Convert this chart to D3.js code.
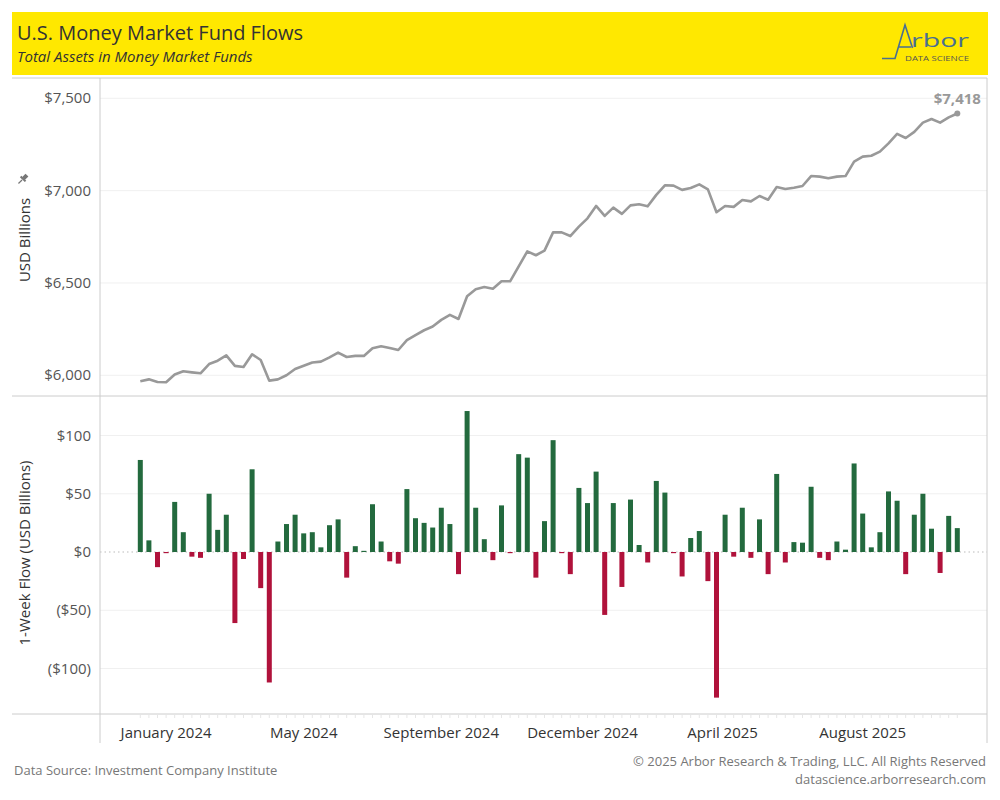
<!DOCTYPE html>
<html>
<head>
<meta charset="utf-8">
<script src="https://cdn.jsdelivr.net/npm/d3@7/dist/d3.min.js"></script>
<style>
  body { margin: 0; background: #fff; }
  text { font-family: 'Open Sans', sans-serif; }
</style>
</head>
<body>
<svg id="chart" width="1000" height="800"></svg>
<script>
// weekly report dates (ICI, Wednesdays)
const weeks = [
  '2024-01-03','2024-01-10','2024-01-17','2024-01-24','2024-01-31','2024-02-07','2024-02-14','2024-02-21','2024-02-28',
  '2024-03-06','2024-03-13','2024-03-20','2024-03-27','2024-04-03','2024-04-10','2024-04-17','2024-04-24',
  '2024-05-01','2024-05-08','2024-05-15','2024-05-22','2024-05-29','2024-06-05','2024-06-12','2024-06-19','2024-06-26',
  '2024-07-03','2024-07-10','2024-07-17','2024-07-24','2024-07-31','2024-08-07','2024-08-14','2024-08-21','2024-08-28',
  '2024-09-04','2024-09-11','2024-09-18','2024-09-25','2024-10-02','2024-10-09','2024-10-16','2024-10-23','2024-10-30',
  '2024-11-06','2024-11-13','2024-11-20','2024-11-27','2024-12-04','2024-12-11','2024-12-18','2024-12-25',
  '2025-01-01','2025-01-08','2025-01-15','2025-01-22','2025-01-29','2025-02-05','2025-02-12','2025-02-19','2025-02-26',
  '2025-03-05','2025-03-12','2025-03-19','2025-03-26','2025-04-02','2025-04-09','2025-04-16','2025-04-23','2025-04-30',
  '2025-05-07','2025-05-14','2025-05-21','2025-05-28','2025-06-04','2025-06-11','2025-06-18','2025-06-25',
  '2025-07-02','2025-07-09','2025-07-16','2025-07-23','2025-07-30','2025-08-06','2025-08-13','2025-08-20','2025-08-27',
  '2025-09-03','2025-09-10','2025-09-17','2025-09-24','2025-10-01','2025-10-08','2025-10-15','2025-10-22','2025-10-29'
]

// total assets, USD billions
const assets = [
  5968, 5978, 5964, 5962, 6004, 6022, 6016, 6011, 6061, 6079, 6108, 6051,
  6045, 6114, 6083, 5971, 5978, 6000, 6034, 6052, 6069, 6074, 6097, 6123,
  6099, 6105, 6105, 6146, 6157, 6148, 6137, 6190, 6218, 6244, 6264, 6300,
  6327, 6305, 6428, 6466, 6478, 6469, 6509, 6509, 6590, 6671, 6650, 6675,
  6774, 6774, 6754, 6805, 6850, 6917, 6863, 6908, 6874, 6920, 6926, 6915,
  6977, 7029, 7027, 7004, 7014, 7034, 7007, 6883, 6917, 6912, 6949, 6942,
  6971, 6951, 7020, 7009, 7016, 7025, 7079, 7076, 7067, 7076, 7079, 7157,
  7184, 7189, 7211, 7256, 7307, 7285, 7318, 7368, 7388, 7368, 7397, 7418
]

// 1-week flow, USD billions
const flows = [
  79, 10, -13, -1, 43, 17, -4, -5, 50, 19, 32, -61,
  -6, 71, -31, -112, 9, 24, 32, 16, 17, 4, 23, 28,
  -22, 5, 1, 41, 9, -8, -10, 54, 29, 25, 21, 38,
  24, -19, 121, 38, 11, -7, 40, -1, 84, 81, -22, 26.5,
  96, -1, -19, 55, 42, 69, -54, 42, -30, 45, 6, -9,
  61, 51, -1, -21, 12, 18, -25, -125, 32, -4, 38, -5,
  28, -19, 67, -9, 8.5, 8, 56, -5, -7, 9, 2, 76,
  33, 4, 17, 52, 44, -19, 32, 50, 20, -18, 31, 20.5
]

const assetTicks = [6000, 6500, 7000, 7500]
const flowTicks = [-100, -50, 0, 50, 100]
const monthTicks = ['2024-01-24', '2024-05-15', '2024-09-04', '2024-12-28', '2025-04-21', '2025-08-13']

const parse = d3.timeParse('%Y-%m-%d')
const data = weeks.map((w, i) => ({ date: parse(w), assets: assets[i], flow: flows[i] }))

const svg = d3.select('#chart')
const left = 100
const right = 987

const x = d3.scaleTime()
  .domain(d3.extent(data, d => d.date))
  .range([140.3, 957.3])

const yTop = d3.scaleLinear().domain([6000, 7500]).range([375.3, 98.3])
const yBot = d3.scaleLinear().domain([-100, 100]).range([668.5, 435.5])

// header band
svg.append('rect')
  .attr('x', 12).attr('y', 12).attr('width', 976).attr('height', 63)
  .attr('fill', '#ffe800')
svg.append('text')
  .attr('x', 17).attr('y', 40)
  .attr('font-size', 20).attr('fill', '#333')
  .text('U.S. Money Market Fund Flows')
svg.append('text')
  .attr('x', 17).attr('y', 62)
  .attr('font-size', 15).attr('font-style', 'italic').attr('fill', '#333')
  .text('Total Assets in Money Market Funds')

// logo
const logo = svg.append('g')
logo.append('path')
  .attr('d', 'M882,58.5 L895,58.5 L905,25 L912.5,48 M898,47 L911,47')
  .attr('fill', 'none').attr('stroke', '#4a6f90').attr('stroke-width', 1.6)
logo.append('text')
  .attr('x', 911).attr('y', 47)
  .attr('font-size', 18).attr('fill', '#4a6f90')
  .attr('textLength', 58).attr('lengthAdjust', 'spacingAndGlyphs')
  .text('rbor')
logo.append('text')
  .attr('x', 905).attr('y', 61)
  .attr('font-size', 8).attr('fill', '#555')
  .attr('textLength', 64).attr('lengthAdjust', 'spacingAndGlyphs')
  .text('DATA SCIENCE')

// gridlines
svg.append('g').selectAll('line')
  .data(assetTicks).join('line')
  .attr('x1', left).attr('x2', right)
  .attr('y1', d => yTop(d)).attr('y2', d => yTop(d))
  .attr('stroke', '#f0f0f0')
svg.append('g').selectAll('line')
  .data(flowTicks.filter(d => d !== 0)).join('line')
  .attr('x1', left).attr('x2', right)
  .attr('y1', d => yBot(d)).attr('y2', d => yBot(d))
  .attr('stroke', '#f0f0f0')

// zero reference line
svg.append('line')
  .attr('x1', left).attr('x2', right)
  .attr('y1', yBot(0)).attr('y2', yBot(0))
  .attr('stroke', '#bbb').attr('stroke-dasharray', '1.5,3')

// frame lines
const frame = svg.append('g').attr('stroke', '#ccc').attr('stroke-width', 1)
;[78, 396, 714].forEach(yy => {
  frame.append('line').attr('x1', 12).attr('x2', right).attr('y1', yy).attr('y2', yy)
})
frame.append('line').attr('x1', left).attr('x2', left).attr('y1', 78).attr('y2', 743)
frame.append('line').attr('x1', right).attr('x2', right).attr('y1', 78).attr('y2', 743)

// weekly ticks under the axis line
svg.append('g').selectAll('line')
  .data(data).join('line')
  .attr('x1', d => x(d.date)).attr('x2', d => x(d.date))
  .attr('y1', 715).attr('y2', 718)
  .attr('stroke', '#e6e6e6')

// y tick labels
svg.append('g').selectAll('text')
  .data(assetTicks).join('text')
  .attr('x', 91).attr('y', d => yTop(d) + 5)
  .attr('text-anchor', 'end').attr('font-size', 15).attr('fill', '#555')
  .text(d => '$' + d3.format(',')(d))

const flowFmt = d => d < 0 ? '($' + Math.abs(d) + ')' : '$' + d
svg.append('g').selectAll('text')
  .data(flowTicks).join('text')
  .attr('x', 91).attr('y', d => yBot(d) + 5)
  .attr('text-anchor', 'end').attr('font-size', 15).attr('fill', '#555')
  .text(flowFmt)

// axis titles
svg.append('text')
  .attr('transform', 'translate(30,240) rotate(-90)')
  .attr('text-anchor', 'middle').attr('font-size', 15).attr('fill', '#333')
  .text('USD Billions')
// pushpin icon
const pin = svg.append('g')
  .attr('transform', 'translate(22,180) rotate(45)')
  .attr('fill', '#777')
pin.append('rect').attr('x', -2).attr('y', -7).attr('width', 4).attr('height', 5)
pin.append('rect').attr('x', -3.5).attr('y', -2.5).attr('width', 7).attr('height', 2)
pin.append('line').attr('x1', 0).attr('x2', 0).attr('y1', 0).attr('y2', 5)
  .attr('stroke', '#777').attr('stroke-width', 1.2)

svg.append('text')
  .attr('transform', 'translate(30,553) rotate(-90)')
  .attr('text-anchor', 'middle').attr('font-size', 15).attr('fill', '#333')
  .text('1-Week Flow (USD Billions)')

// x axis labels
svg.append('g').selectAll('text')
  .data(monthTicks.map(parse)).join('text')
  .attr('x', d => x(d)).attr('y', 738)
  .attr('text-anchor', 'middle').attr('font-size', 15).attr('fill', '#333')
  .text(d3.timeFormat('%B %Y'))

// total assets line
const line = d3.line()
  .x(d => x(d.date))
  .y(d => yTop(d.assets))
svg.append('path')
  .datum(data)
  .attr('d', line)
  .attr('fill', 'none')
  .attr('stroke', '#999')
  .attr('stroke-width', 2.6)
  .attr('stroke-linejoin', 'round')

const last = data[data.length - 1]
svg.append('circle')
  .attr('cx', x(last.date)).attr('cy', yTop(last.assets)).attr('r', 3)
  .attr('fill', '#999')
svg.append('text')
  .attr('x', x(last.date)).attr('y', yTop(last.assets) - 9)
  .attr('text-anchor', 'middle').attr('font-size', 15).attr('font-weight', 'bold')
  .attr('fill', '#999')
  .text('$' + d3.format(',')(last.assets))

// flow bars
svg.append('g').selectAll('rect')
  .data(data).join('rect')
  .attr('x', d => x(d.date) - 2.5)
  .attr('width', 5)
  .attr('y', d => yBot(Math.max(0, d.flow)))
  .attr('height', d => Math.max(1, Math.abs(yBot(d.flow) - yBot(0))))
  .attr('fill', d => d.flow >= 0 ? '#236a3e' : '#b0123b')

// footer
svg.append('text')
  .attr('x', 14).attr('y', 775)
  .attr('font-size', 13).attr('fill', '#777')
  .text('Data Source: Investment Company Institute')
svg.append('text')
  .attr('x', 986).attr('y', 766)
  .attr('text-anchor', 'end').attr('font-size', 13).attr('fill', '#777')
  .text('© 2025 Arbor Research & Trading, LLC. All Rights Reserved')
svg.append('text')
  .attr('x', 986).attr('y', 784)
  .attr('text-anchor', 'end').attr('font-size', 13).attr('fill', '#777')
  .text('datascience.arborresearch.com')
</script>
</body>
</html>
